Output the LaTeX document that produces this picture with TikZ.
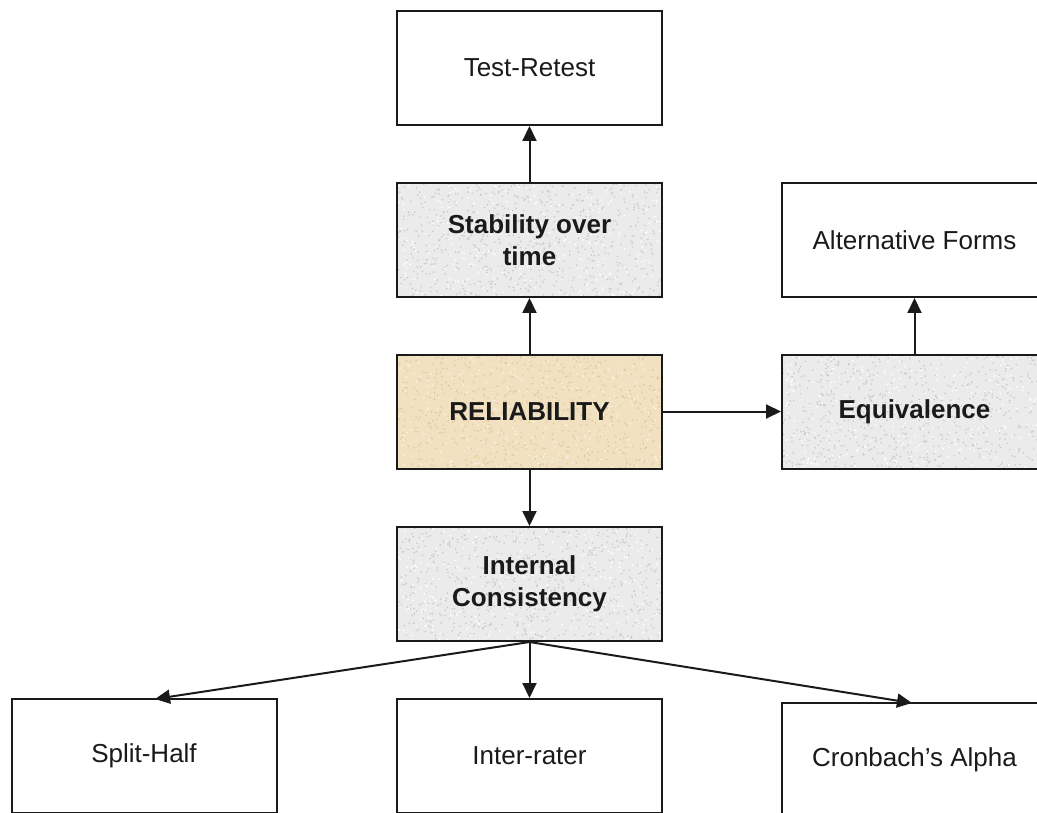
\documentclass[tikz,border=0pt]{standalone}
\usepackage{fontspec}
\setmainfont{Liberation Sans}
\usetikzlibrary{arrows.meta,calc}
\definecolor{grayfill}{HTML}{EBEBEB}
\definecolor{grayspeck}{HTML}{C9C9C9}
\definecolor{tanfill}{HTML}{F1E1C0}
\definecolor{tanspeck}{HTML}{E0C89C}
\definecolor{linec}{HTML}{1A1A1A}
\tikzset{
  box/.style={draw=linec, line width=2pt, minimum width=265pt, minimum height=114pt,
    inner sep=0pt, align=center, font=\fontsize{26}{32}\selectfont, text=linec},
  plainbox/.style={box, fill=white},
  speckles/.style 2 args={path picture={
      \foreach \i in {1,...,700}{
        \fill[#1] ($(path picture bounding box.south west)+(rnd*270pt,rnd*120pt)$) circle (0.9pt);
      }
      \foreach \i in {1,...,300}{
        \fill[#2] ($(path picture bounding box.south west)+(rnd*270pt,rnd*120pt)$) circle (1pt);
      }}},
  graybox/.style={box, fill=grayfill, font=\fontsize{26}{32}\selectfont\bfseries, speckles={grayspeck}{white}},
  tanbox/.style={box, fill=tanfill, font=\fontsize{26}{32}\selectfont\bfseries, speckles={tanspeck}{white!60!tanfill}},
  arr/.style={draw=linec, line width=2pt, -{Triangle[length=15pt,width=14pt]}}
}
\begin{document}
\begin{tikzpicture}[x=1pt,y=-1pt]
\pgfmathsetseed{7}
\useasboundingbox (0,0) rectangle (1037,813);
\clip (0,0) rectangle (1037,813);
\node[plainbox] (tr) at (529.5,68) {Test-Retest};
\node[graybox] (stab) at (529.5,240) {Stability over\\time};
\node[tanbox] (rel) at (529.5,411.5) {RELIABILITY};
\node[graybox] (ic) at (529.5,584) {Internal\\Consistency};
\node[plainbox] (alt) at (914.5,240) {Alternative Forms};
\node[graybox] (eq) at (914.5,411.5) {Equivalence};
\node[plainbox] (split) at (144,756) {Split-Half};
\node[plainbox] (inter) at (529.5,756) {Inter-rater};
\node[plainbox] (cron) at (914.5,760) {Cronbach's Alpha};
\coordinate (splittop) at (155,699);
\coordinate (crontop) at (912,703);
\draw[arr] (stab.north) -- (tr.south);
\draw[arr] (rel.north) -- (stab.south);
\draw[arr] (rel.east) -- (eq.west);
\draw[arr] (eq.north) -- (alt.south);
\draw[arr] (rel.south) -- (ic.north);
\draw[arr] (ic.south) -- (splittop);
\draw[arr] (ic.south) -- (inter.north);
\draw[arr] (ic.south) -- (crontop);
\end{tikzpicture}
\end{document}
